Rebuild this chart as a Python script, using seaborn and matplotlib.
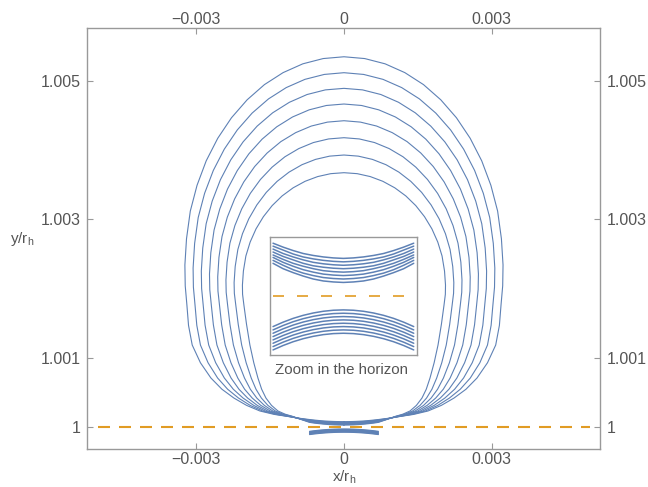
import numpy as np
import matplotlib
matplotlib.use('Agg')
import matplotlib.pyplot as plt
import matplotlib.transforms as mtransforms
import seaborn as sns

# right half of each closed curve, from the top (x=0)
# down the side to the neck and along the bottom back to x=0
# x in units of 1e-6, y as (y/r_h - 1) in units of 1e-6
x0 = [0, 422, 836, 1237, 1616, 1967, 2285, 2564, 2799, 2985, 3122, 3199, 3232, 3225, 3191, 3158, 3083, 2916, 2703, 2479, 2236, 1978, 1707, 1417, 1138, 890, 700, 600, 500, 400, 300, 200, 100, 0]
y0 = [5343, 5317, 5241, 5114, 4941, 4722, 4463, 4167, 3841, 3488, 3116, 2717, 2338, 2037, 1760, 1466, 1183, 927, 707, 545, 418, 312, 231, 182, 152, 125, 108, 100, 93, 87, 83, 80, 78, 77]
x1 = [0, 400, 793, 1173, 1533, 1866, 2167, 2431, 2654, 2831, 2961, 3034, 3065, 3059, 3026, 2990, 2916, 2761, 2567, 2363, 2143, 1906, 1655, 1385, 1124, 885, 700, 600, 500, 400, 300, 200, 100, 0]
y1 = [5113, 5088, 5017, 4898, 4735, 4530, 4287, 4010, 3703, 3373, 3024, 2650, 2294, 2018, 1760, 1468, 1183, 927, 707, 545, 418, 312, 231, 183, 152, 122, 102, 94, 86, 80, 76, 73, 71, 70]
x2 = [0, 378, 750, 1109, 1449, 1764, 2049, 2299, 2510, 2677, 2800, 2869, 2898, 2892, 2860, 2822, 2748, 2606, 2430, 2248, 2050, 1833, 1603, 1354, 1109, 880, 700, 600, 500, 400, 300, 200, 100, 0]
y2 = [4887, 4865, 4798, 4686, 4534, 4342, 4115, 3856, 3569, 3260, 2933, 2583, 2251, 1999, 1760, 1471, 1183, 927, 707, 545, 418, 312, 231, 183, 152, 119, 96, 87, 80, 74, 69, 66, 64, 63]
x3 = [0, 357, 707, 1045, 1366, 1663, 1932, 2167, 2366, 2523, 2639, 2705, 2732, 2726, 2695, 2653, 2581, 2451, 2294, 2133, 1957, 1761, 1551, 1322, 1095, 875, 700, 600, 500, 400, 300, 200, 100, 0]
y3 = [4661, 4640, 4577, 4474, 4332, 4154, 3942, 3701, 3434, 3146, 2843, 2516, 2208, 1981, 1760, 1474, 1183, 927, 707, 545, 418, 312, 231, 183, 152, 117, 90, 81, 74, 67, 62, 59, 57, 56]
x4 = [0, 335, 664, 981, 1283, 1561, 1814, 2035, 2221, 2370, 2478, 2540, 2565, 2560, 2529, 2485, 2413, 2296, 2157, 2018, 1864, 1689, 1498, 1290, 1080, 870, 700, 600, 500, 400, 300, 200, 100, 0]
y4 = [4420, 4400, 4343, 4248, 4118, 3954, 3759, 3537, 3292, 3028, 2748, 2448, 2165, 1962, 1760, 1476, 1183, 927, 707, 545, 418, 312, 231, 184, 152, 114, 84, 75, 67, 61, 56, 52, 50, 49]
x5 = [0, 313, 621, 918, 1199, 1460, 1696, 1903, 2077, 2216, 2317, 2375, 2398, 2393, 2364, 2316, 2246, 2142, 2021, 1902, 1771, 1617, 1446, 1258, 1066, 865, 700, 600, 500, 400, 300, 200, 100, 0]
y5 = [4175, 4157, 4105, 4018, 3900, 3750, 3573, 3371, 3148, 2907, 2653, 2379, 2121, 1944, 1760, 1479, 1183, 927, 707, 545, 418, 312, 231, 184, 152, 111, 79, 69, 61, 54, 49, 45, 43, 42]
x6 = [0, 291, 578, 854, 1116, 1358, 1578, 1770, 1933, 2062, 2156, 2210, 2232, 2227, 2198, 2148, 2078, 1987, 1884, 1787, 1678, 1545, 1394, 1227, 1051, 860, 700, 600, 500, 400, 300, 200, 100, 0]
y6 = [3925, 3909, 3862, 3785, 3678, 3545, 3386, 3205, 3005, 2789, 2561, 2316, 2085, 1929, 1760, 1481, 1183, 927, 707, 545, 418, 312, 231, 184, 152, 108, 73, 63, 54, 47, 42, 38, 36, 35]
x7 = [0, 269, 534, 789, 1032, 1256, 1459, 1637, 1787, 1906, 1993, 2043, 2063, 2060, 2033, 1980, 1911, 1832, 1748, 1672, 1585, 1472, 1341, 1195, 1037, 855, 700, 600, 500, 400, 300, 200, 100, 0]
y7 = [3670, 3656, 3614, 3546, 3452, 3335, 3195, 3035, 2859, 2669, 2468, 2252, 2049, 1915, 1760, 1484, 1183, 927, 707, 545, 418, 312, 231, 185, 152, 105, 67, 56, 48, 41, 35, 31, 29, 28]

# arcs just below the horizon (right half, same units)
arch_x = [0, 100, 200, 300, 400, 500, 600, 700]
arch0 = [-28, -28.7, -30.8, -34.3, -39.1, -45.3, -53, -62]
arch1 = [-34.8, -35.5, -37.6, -41.1, -45.9, -52.1, -59.8, -68.8]
arch2 = [-41.6, -42.3, -44.4, -47.9, -52.7, -58.9, -66.6, -75.6]
arch3 = [-48.4, -49.1, -51.2, -54.7, -59.5, -65.7, -73.4, -82.4]
arch4 = [-55.2, -55.9, -58, -61.5, -66.3, -72.5, -80.2, -89.2]
arch5 = [-62, -62.7, -64.8, -68.3, -73.1, -79.3, -87, -96]
arch6 = [-68.8, -69.5, -71.6, -75.1, -79.9, -86.1, -93.8, -102.8]
arch7 = [-75.6, -76.3, -78.4, -81.9, -86.7, -92.9, -100.6, -109.6]

horizon_x = [-5000, 5000]
zoom_x = [-700, 700]

xs_all = [x0, x1, x2, x3, x4, x5, x6, x7]
ys_all = [y0, y1, y2, y3, y4, y5, y6, y7]
arches = [arch0, arch1, arch2, arch3, arch4, arch5, arch6, arch7]

sns.set_theme(style='white')
plt.rcParams['font.family'] = ['Liberation Sans', 'DejaVu Sans']
plt.rcParams['mathtext.default'] = 'regular'
blue = '#5E81B5'
orange = '#E19C24'
gray = '#999999'
tc = '#555555'


def closed(xr, yr):
    xr = np.array(xr, float); yr = np.array(yr, float)
    xs = np.concatenate([-xr[::-1], xr[1:]]) * 1e-6
    ys = 1 + np.concatenate([yr[::-1], yr[1:]]) * 1e-6
    return xs, ys


def mirrored(xr, yr):
    # xr runs from the edge to 0
    xr = np.array(xr, float); yr = np.array(yr, float)
    xs = np.concatenate([-xr, xr[::-1][1:]]) * 1e-6
    ys = 1 + np.concatenate([yr, yr[::-1][1:]]) * 1e-6
    return xs, ys


fig = plt.figure(figsize=(6.48, 4.87), dpi=100)
ax = fig.add_axes([0.135, 0.078, 0.791, 0.8645])
axin = fig.add_axes([0.4167, 0.271, 0.2264, 0.2417])

for xr, yr in zip(xs_all, ys_all):
    xs, ys = closed(xr, yr)
    sns.lineplot(x=xs, y=ys, sort=False, estimator=None, ax=ax, color=blue, lw=0.8)
    # bottom part only for the zoom
    xs, ys = mirrored(xr[26:], yr[26:])
    sns.lineplot(x=xs, y=ys, sort=False, estimator=None, ax=axin, color=blue, lw=1.1)

for arc in arches:
    xs, ys = mirrored(arch_x[::-1], arc[::-1])
    sns.lineplot(x=xs, y=ys, sort=False, estimator=None, ax=ax, color=blue, lw=0.8)
    sns.lineplot(x=xs, y=ys, sort=False, estimator=None, ax=axin, color=blue, lw=1.1)

ax.plot(np.array(horizon_x) * 1e-6, [1, 1], color=orange, lw=1.5, dashes=(5.76, 4.32))
ax.set_xlim(-0.005211, 0.005203)
ax.set_ylim(1 - 0.0003175, 1.005758)
ax.set_xticks([-0.003, 0, 0.003], ['\u22120.003', '0', '0.003'])
ax.set_yticks([1, 1.001, 1.003, 1.005], ['1', '1.001', '1.003', '1.005'])
ax.tick_params(direction='in', length=4, width=0.8, color=gray, labelcolor=tc, labelsize=11.5, pad=5,
               top=True, labeltop=True, right=True, labelright=True, bottom=True, left=True)
ax.tick_params(axis='x', pad=2.5)
for s in ax.spines.values():
    s.set_color(gray); s.set_linewidth(1)
# top labels sit a little closer to the frame
shift = mtransforms.ScaledTranslation(0, -1.5 / 72, fig.dpi_scale_trans)
for t in ax.xaxis.get_major_ticks():
    t.label2.set_transform(t.label2.get_transform() + shift)

ax.set_xlabel('x/r$_h$', color=tc, fontsize=11, va='bottom')
ax.xaxis.set_label_coords(0.5, -0.088)
ax.set_ylabel('y/r$_h$', color=tc, fontsize=11, rotation=0, ha='center', va='center')
ax.yaxis.set_label_coords(-0.128, 0.5)

axin.plot(np.array(zoom_x) * 1e-6, [1, 1], color=orange, lw=1.2, dashes=(6.6, 7.8))
axin.set_xlim(-0.73e-3, 0.73e-3)
axin.set_ylim(1 - 1.2e-4, 1 + 1.2e-4)
axin.set_xticks([]); axin.set_yticks([])
axin.set_xlabel(''); axin.set_ylabel('')
for s in axin.spines.values():
    s.set_color(gray); s.set_linewidth(1)
fig.text(0.5273, 0.240, 'Zoom in the horizon', ha='center', va='center', color=tc, fontsize=10.8)

fig.savefig('out.png', dpi=100)
